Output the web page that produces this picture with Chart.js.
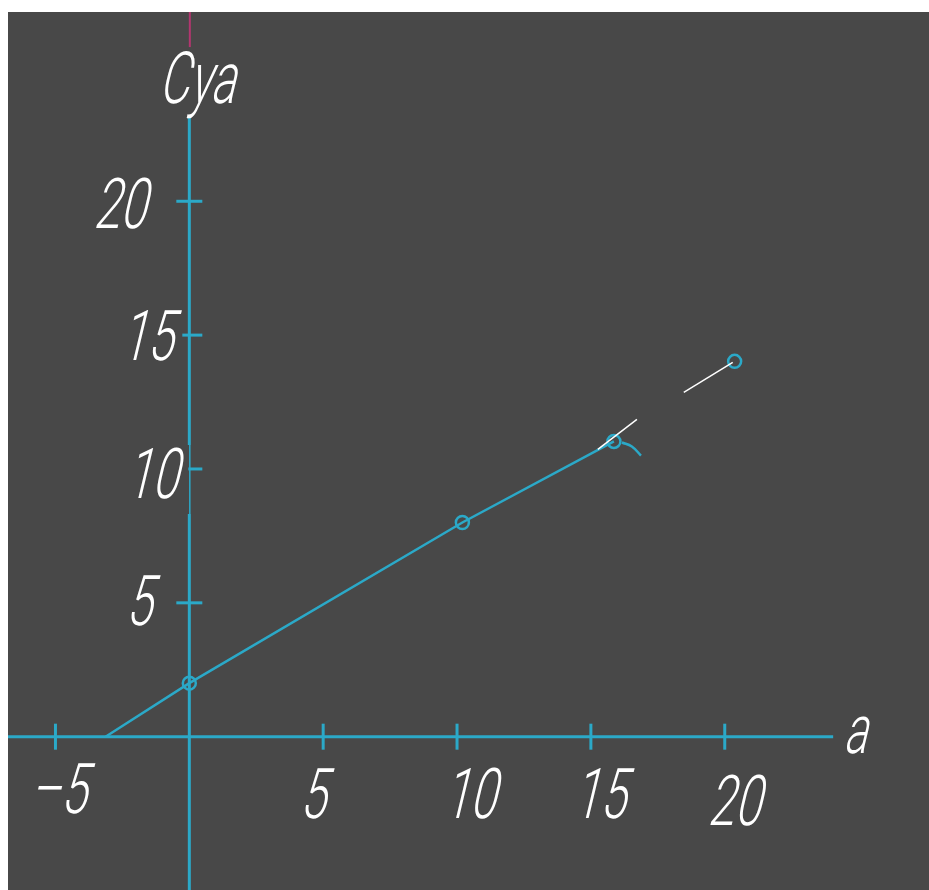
<!DOCTYPE html>
<html>
<head>
<meta charset="utf-8">
<script src="https://cdn.jsdelivr.net/npm/chart.js@4"></script>
<style>
  html, body { margin: 0; padding: 0; background: #ffffff; }
  #panel { position: absolute; left: 8px; top: 12px; width: 921px; height: 878px; background: #484848; }
  canvas { display: block; }
</style>
</head>
<body>
<div id="panel"><canvas id="chart" width="921" height="878"></canvas></div>
<script>
// Data
const lineX = [-3.13, 0, 10.2, 15.86];
const lineY = [0, 2, 8, 11.03];
const markerX = [0, 10.2, 15.86, 20.37];
const markerY = [2, 8, 11.03, 14.02];
const whiteAX = [15.26, 16.72];
const whiteAY = [10.73, 11.85];
const whiteBX = [18.47, 20.3];
const whiteBY = [12.86, 13.98];
const arcX = [16.16, 16.53, 16.87];
const arcY = [10.99, 10.84, 10.5];
const xTicks = [-5, 5, 10, 15, 20];
const yTicks = [5, 10, 15, 20];
const xTitle = 'a';
const yTitle = 'Cya';

const CYAN = '#2ba9c8';
const MAGENTA = '#b3366f';
const TEXT = '#ffffff';

function pts(xs, ys) {
    return xs.map((x, i) => ({ x: x, y: ys[i] }));
}

// label nudges (px) for the hand-placed drawing text
const xLabelShift = { '-5': [2, 76], '5': [-11, 81], '10': [12, 81], '15': [8, 81], '20': [9, 88] };
const yLabelShift = { '5': [-51, 22], '10': [-38, 29], '15': [-43, 25], '20': [-70, 27] };

function slantText(ctx, text, x, y, size, squeeze) {
    ctx.save();
    ctx.translate(x, y);
    ctx.transform(squeeze, 0, -0.24, 1, 0, 0);
    ctx.font = '300 ' + size + 'px Roboto';
    ctx.fillStyle = TEXT;
    ctx.textAlign = 'center';
    ctx.textBaseline = 'alphabetic';
    ctx.fillText(text, 0, 0);
    ctx.restore();
}

const axesPlugin = {
    id: 'axesPlugin',
    beforeDatasetsDraw(chart) {
        const ctx = chart.ctx;
        const xs = chart.scales.x;
        const ys = chart.scales.y;
        const x0 = xs.getPixelForValue(0);
        const y0 = ys.getPixelForValue(0);
        ctx.save();
        ctx.lineCap = 'butt';

        // magenta stub above the title
        ctx.strokeStyle = MAGENTA;
        ctx.lineWidth = 2;
        ctx.beginPath();
        ctx.moveTo(x0 + 0.5, ys.getPixelForValue(ys.max));
        ctx.lineTo(x0 + 0.5, ys.getPixelForValue(25.76));
        ctx.stroke();

        ctx.strokeStyle = CYAN;
        // x axis
        ctx.lineWidth = 3;
        ctx.beginPath();
        ctx.moveTo(xs.getPixelForValue(xs.min), y0);
        ctx.lineTo(xs.getPixelForValue(24.05), y0);
        ctx.stroke();

        // y axis, with the thin stretch near 10
        ctx.beginPath();
        ctx.moveTo(x0, ys.getPixelForValue(23.11));
        ctx.lineTo(x0, ys.getPixelForValue(10.9));
        ctx.moveTo(x0, ys.getPixelForValue(8.32));
        ctx.lineTo(x0, ys.getPixelForValue(ys.min));
        ctx.stroke();
        ctx.lineWidth = 1.5;
        ctx.beginPath();
        ctx.moveTo(x0 + 0.5, ys.getPixelForValue(10.9));
        ctx.lineTo(x0 + 0.5, ys.getPixelForValue(8.32));
        ctx.stroke();

        // tick marks
        ctx.lineWidth = 3;
        xTicks.forEach(v => {
            const px = xs.getPixelForValue(v);
            ctx.beginPath();
            ctx.moveTo(px, y0 - 13);
            ctx.lineTo(px, y0 + 13);
            ctx.stroke();
        });
        yTicks.forEach(v => {
            const py = ys.getPixelForValue(v);
            const left = v === 10 ? 1 : (v === 15 ? 7 : 13);
            ctx.beginPath();
            ctx.moveTo(x0 - left, py);
            ctx.lineTo(x0 + 13, py);
            ctx.stroke();
        });
        ctx.restore();
    },
    afterDatasetsDraw(chart) {
        const ctx = chart.ctx;
        const xs = chart.scales.x;
        const ys = chart.scales.y;
        const x0 = xs.getPixelForValue(0);
        const y0 = ys.getPixelForValue(0);

        xTicks.forEach(v => {
            const s = xLabelShift[String(v)];
            slantText(ctx, String(v).replace('-', '\u2013'), xs.getPixelForValue(v) + s[0], y0 + s[1], 70, 0.68);
        });
        yTicks.forEach(v => {
            const s = yLabelShift[String(v)];
            slantText(ctx, String(v), x0 + s[0], ys.getPixelForValue(v) + s[1], 70, 0.68);
        });
        slantText(ctx, yTitle, x0 + 7, ys.getPixelForValue(25.76) + 56, 72, 0.64);
        slantText(ctx, xTitle, xs.getPixelForValue(24.85), y0 + 16, 68, 0.64);
    }
};

new Chart(document.getElementById('chart'), {
    type: 'scatter',
    data: {
        datasets: [
            {
                data: pts(whiteAX, whiteAY), showLine: true, borderColor: '#ffffff',
                borderWidth: 1.5, pointRadius: 0, order: 0
            },
            {
                data: pts(whiteBX, whiteBY), showLine: true, borderColor: '#ffffff',
                borderWidth: 1.5, pointRadius: 0, order: 0
            },
            {
                data: pts(markerX, markerY), showLine: false, pointStyle: 'circle',
                pointRadius: 6.5, borderColor: CYAN, borderWidth: 2.5,
                backgroundColor: 'rgba(0,0,0,0)', order: 1
            },
            {
                data: pts(arcX, arcY), showLine: true, borderColor: CYAN, borderWidth: 2.5,
                pointRadius: 0, tension: 0.4, order: 2
            },
            {
                data: pts(lineX, lineY), showLine: true, borderColor: CYAN, borderWidth: 2.5,
                pointRadius: 0, order: 2
            }
        ]
    },
    options: {
        responsive: false,
        animation: false,
        events: [],
        layout: { padding: 0, autoPadding: false },
        plugins: { legend: { display: false }, tooltip: { enabled: false } },
        scales: {
            x: { type: 'linear', display: false, min: -6.773, max: 27.63 },
            y: { type: 'linear', display: false, min: -5.727, max: 27.07 }
        }
    },
    plugins: [axesPlugin]
});
</script>
</body>
</html>
